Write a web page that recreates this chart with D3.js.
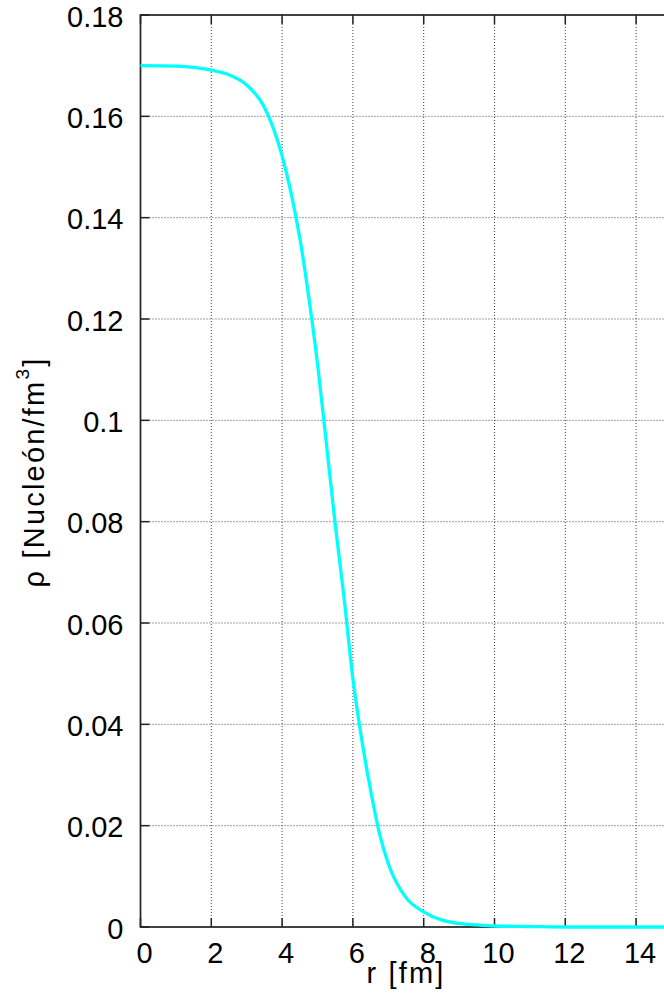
<!DOCTYPE html>
<html>
<head>
<meta charset="utf-8">
<script src="https://cdn.jsdelivr.net/npm/d3@7.9.0/dist/d3.min.js"></script>
<style>
  html, body { margin: 0; padding: 0; background: #fff; }
  svg { display: block; }
  text { font-family: Arial, "Liberation Sans", sans-serif; fill: #000; }
</style>
</head>
<body>
<svg id="chart" width="664" height="1001"></svg>
<script>
// radius in fm and density
const radius = [0, 1, 2, 2.5, 3, 3.5, 4, 4.25, 4.5, 4.75, 5, 5.25, 5.5, 5.75, 6, 6.25, 6.5, 6.75, 7, 7.5, 8, 8.5, 9, 9.5, 10, 11, 12, 13, 14, 15];
const density = [0.1700, 0.1699, 0.1691, 0.1682, 0.1662, 0.1618, 0.1522, 0.1450, 0.1360, 0.1245, 0.1112, 0.0955, 0.0795, 0.0650, 0.0490, 0.0370, 0.0270, 0.0185, 0.0125, 0.0058, 0.0030, 0.0014, 0.0007, 0.0004, 0.0002, 0.0001, 0, 0, 0, 0];
const xTicks = [0, 2, 4, 6, 8, 10, 12, 14];
const yTicks = [0, 0.02, 0.04, 0.06, 0.08, 0.1, 0.12, 0.14, 0.16, 0.18];

const mLeft = 140.5, mRight = 671.5, mTop = 15, mBottom = 927;

const svg = d3.select("#chart");
const x = d3.scaleLinear().domain([0, 15]).range([mLeft, mRight]);
const y = d3.scaleLinear().domain([0, 0.18]).range([mBottom, mTop]);

// dotted grid
const grid = svg.append("g")
    .attr("stroke", "#444")
    .attr("stroke-width", 1)
    .attr("stroke-dasharray", "1,2");
grid.selectAll("line.v")
    .data(xTicks.filter(d => d > 0))
    .enter().append("line")
    .attr("x1", d => x(d)).attr("x2", d => x(d))
    .attr("y1", mTop).attr("y2", mBottom);
grid.selectAll("line.h")
    .data(yTicks.filter(d => d > 0 && d < 0.18))
    .enter().append("line")
    .attr("x1", mLeft).attr("x2", mRight)
    .attr("y1", d => y(d)).attr("y2", d => y(d));

// inward ticks on all sides
const ticks = svg.append("g").attr("stroke", "#222").attr("stroke-width", 1.5);
xTicks.forEach(d => {
    ticks.append("line").attr("x1", x(d)).attr("x2", x(d)).attr("y1", mBottom).attr("y2", mBottom - 9);
    ticks.append("line").attr("x1", x(d)).attr("x2", x(d)).attr("y1", mTop).attr("y2", mTop + 9);
});
yTicks.forEach(d => {
    ticks.append("line").attr("x1", mLeft).attr("x2", mLeft + 9).attr("y1", y(d)).attr("y2", y(d));
});

// frame
svg.append("rect")
    .attr("x", mLeft).attr("y", mTop)
    .attr("width", mRight - mLeft).attr("height", mBottom - mTop)
    .attr("fill", "none").attr("stroke", "#222").attr("stroke-width", 1.7);

// tick labels
svg.append("g").selectAll("text")
    .data(xTicks).enter().append("text")
    .attr("x", d => x(d) + 4).attr("y", mBottom + 35.5)
    .attr("text-anchor", "middle")
    .attr("font-size", 29)
    .text(d => d);
svg.append("g").selectAll("text")
    .data(yTicks).enter().append("text")
    .attr("x", 123.5).attr("y", d => y(d) + 11.5)
    .attr("text-anchor", "end")
    .attr("font-size", 29)
    .text(d => d3.format("~g")(d));

// axis titles
svg.append("text")
    .attr("x", 406).attr("y", 983)
    .attr("text-anchor", "middle")
    .attr("font-size", 29)
    .attr("letter-spacing", 2.2)
    .text("r [fm]");

const yt = svg.append("text")
    .attr("transform", `translate(44, ${(mTop + mBottom) / 2 + 1}) rotate(-90)`)
    .attr("text-anchor", "middle")
    .attr("font-size", 29)
    .attr("letter-spacing", 2.2);
yt.append("tspan").text("ρ [Nucleón/fm");
yt.append("tspan").attr("font-size", 19).attr("dy", -15).text("3");
yt.append("tspan").attr("dy", 15).text("]");

// density curve
const line = d3.line()
    .x((d, i) => x(radius[i]))
    .y(d => y(d))
    .curve(d3.curveMonotoneX);
svg.append("path")
    .datum(density)
    .attr("d", line)
    .attr("fill", "none")
    .attr("stroke", "#00ffff")
    .attr("stroke-width", 3.3);
</script>
</body>
</html>
